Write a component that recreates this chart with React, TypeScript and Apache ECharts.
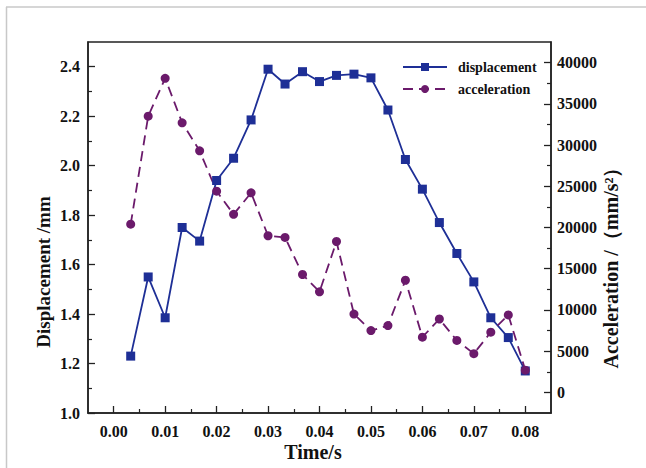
import React, { useEffect, useRef } from "react";
import * as echarts from "echarts";

const time = [0.0033, 0.0067, 0.01, 0.0133, 0.0167, 0.02, 0.0233, 0.0267, 0.03, 0.0333, 0.0367, 0.04, 0.0433, 0.0467, 0.05, 0.0533, 0.0567, 0.06, 0.0633, 0.0667, 0.07, 0.0733, 0.0767, 0.08];
const displacement = [1.23, 1.55, 1.385, 1.75, 1.695, 1.94, 2.03, 2.185, 2.39, 2.33, 2.38, 2.34, 2.365, 2.37, 2.355, 2.225, 2.025, 1.905, 1.77, 1.645, 1.53, 1.385, 1.305, 1.17];
const acceleration = [20400, 33500, 38100, 32700, 29300, 24400, 21600, 24200, 19000, 18800, 14300, 12200, 18300, 9500, 7500, 8100, 13600, 6700, 8900, 6300, 4700, 7300, 9400, 2700];

const xTicks = [0, 0.01, 0.02, 0.03, 0.04, 0.05, 0.06, 0.07, 0.08];
const xMinorTicks = [0.005, 0.015, 0.025, 0.035, 0.045, 0.055, 0.065, 0.075];
const dispTicks = [1.0, 1.2, 1.4, 1.6, 1.8, 2.0, 2.2, 2.4];
const dispMinorTicks = [1.1, 1.3, 1.5, 1.7, 1.9, 2.1, 2.3];
const accTicks = [0, 5000, 10000, 15000, 20000, 25000, 30000, 35000, 40000];
const accMinorTicks = [2500, 7500, 12500, 17500, 22500, 27500, 32500, 37500];

const SERIF = "Liberation Serif";
const BLUE = "#1e2f96";
const PURPLE = "#6b1a6b";
const AXIS = "#222";

export default function App() {
  const ref = useRef<HTMLDivElement>(null);
  useEffect(() => {
    document.body.style.margin = "0";
    const chart = echarts.init(ref.current!, undefined, { renderer: "svg" });
    const labelStyle = { fontFamily: SERIF, fontWeight: "bold" as const, fontSize: 16, color: "#111" };
    const mainAxis = (extra: any) => ({
      type: "value",
      axisLine: { show: true, onZero: false, lineStyle: { color: AXIS, width: 1.5 } },
      splitLine: { show: false },
      ...extra,
    });
    const minorAxis = (extra: any) => ({
      type: "value",
      axisLine: { show: false, onZero: false },
      axisLabel: { show: false },
      splitLine: { show: false },
      ...extra,
    });
    const majorTick = (vals: number[]) => ({ show: true, inside: true, length: 7, customValues: vals, lineStyle: { color: AXIS, width: 1.3 } });
    const minorTick = (vals: number[]) => ({ show: true, inside: true, length: 4, customValues: vals, lineStyle: { color: AXIS, width: 1.2 } });
    const xBase = { min: -0.005, max: 0.085, position: "bottom" };
    const lBase = { min: 1.0, max: 2.5, position: "left" };
    const rBase = { min: -2500, max: 42500, position: "right" };
    chart.setOption({
      animation: false,
      grid: { left: 88, right: 95, top: 42, bottom: 55, show: true, borderColor: AXIS, borderWidth: 1.5 },
      xAxis: [
        mainAxis({
          ...xBase,
          axisTick: majorTick(xTicks),
          axisLabel: { ...labelStyle, margin: 10, customValues: xTicks, formatter: (v: number) => v.toFixed(2) },
        }),
        minorAxis({ ...xBase, axisTick: minorTick(xMinorTicks) }),
      ],
      yAxis: [
        mainAxis({
          ...lBase,
          axisTick: majorTick(dispTicks),
          axisLabel: { ...labelStyle, margin: 8, customValues: dispTicks, formatter: (v: number) => v.toFixed(1) },
        }),
        minorAxis({ ...lBase, axisTick: minorTick(dispMinorTicks) }),
        mainAxis({
          ...rBase,
          axisTick: majorTick(accTicks),
          axisLabel: { ...labelStyle, margin: 6, customValues: accTicks, formatter: (v: number) => String(Math.round(v)) },
        }),
        minorAxis({ ...rBase, axisTick: minorTick(accMinorTicks) }),
      ],
      legend: {
        orient: "vertical",
        left: 402,
        top: 60,
        padding: 0,
        itemWidth: 44,
        itemHeight: 10,
        itemGap: 8,
        textStyle: { fontFamily: SERIF, fontWeight: "bold", fontSize: 14, color: "#111", padding: [0, 0, 0, 6] },
        data: ["displacement", "acceleration"],
      },
      series: [
        {
          name: "displacement",
          type: "line",
          xAxisIndex: 0,
          yAxisIndex: 0,
          data: time.map((t, i) => [t, displacement[i]]),
          symbol: "rect",
          symbolSize: 9,
          itemStyle: { color: BLUE },
          lineStyle: { color: BLUE, width: 1.8 },
        },
        {
          name: "acceleration",
          type: "line",
          xAxisIndex: 0,
          yAxisIndex: 2,
          data: time.map((t, i) => [t, acceleration[i]]),
          symbol: "circle",
          symbolSize: 9,
          itemStyle: { color: PURPLE },
          lineStyle: { color: PURPLE, width: 1.8, type: [10, 6] },
        },
      ],
      graphic: [
        { type: "line", shape: { x1: 6, y1: 7, x2: 646, y2: 7 }, style: { stroke: "#c8c8c8", lineWidth: 1.5 } },
        { type: "line", shape: { x1: 6.5, y1: 7, x2: 6.5, y2: 468 }, style: { stroke: "#c8c8c8", lineWidth: 1.5 } },
        {
          type: "text",
          x: 43,
          y: 272,
          rotation: Math.PI / 2,
          style: { text: "Displacement /mm", fontFamily: SERIF, fontWeight: "bold", fontSize: 19, fill: "#111", align: "center", verticalAlign: "middle" },
        },
        {
          type: "text",
          x: 611,
          y: 263,
          rotation: Math.PI / 2,
          style: { text: "Acceleration /（mm/s²）", fontFamily: SERIF, fontWeight: "bold", fontSize: 20, fill: "#111", align: "center", verticalAlign: "middle" },
        },
        {
          type: "text",
          x: 313,
          y: 452,
          style: { text: "Time/s", fontFamily: SERIF, fontWeight: "bold", fontSize: 20, fill: "#111", align: "center", verticalAlign: "middle" },
        },
      ],
    });
    return () => chart.dispose();
  }, []);
  return <div ref={ref} style={{ width: 646, height: 468 }} />;
}
